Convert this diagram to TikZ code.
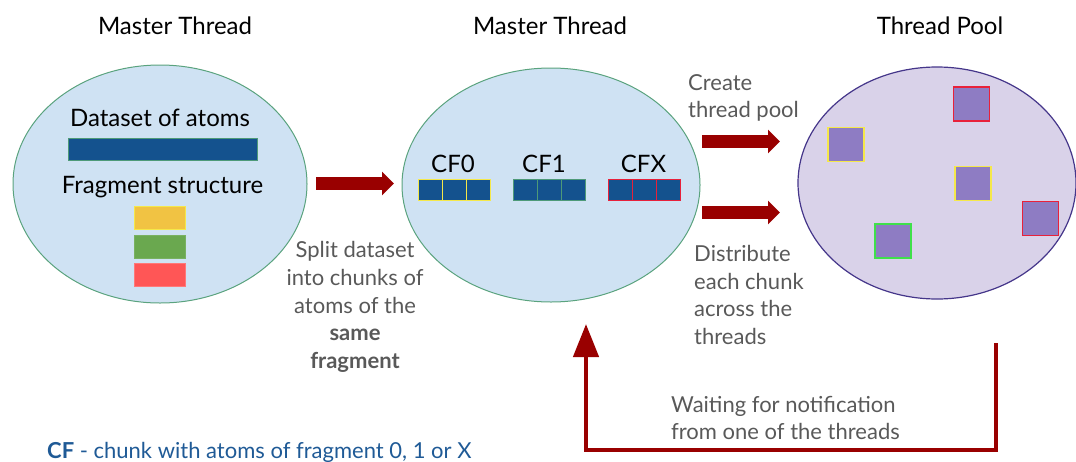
\documentclass[tikz,border=0pt]{standalone}
\usepackage{fontspec}
\setmainfont{Lato}
\usetikzlibrary{arrows.meta,shapes.geometric}

\definecolor{blobblue}{HTML}{CFE2F3}
\definecolor{blobline}{HTML}{5AA37E}
\definecolor{poolfill}{HTML}{D9D2E9}
\definecolor{poolline}{HTML}{45368A}
\definecolor{atomblue}{HTML}{14528E}
\definecolor{fragyellow}{HTML}{F1C343}
\definecolor{fraggreen}{HTML}{6AA84F}
\definecolor{fragred}{HTML}{FF5656}
\definecolor{edgeyellow}{HTML}{F5E84A}
\definecolor{edgegreen}{HTML}{4E9A78}
\definecolor{edgered}{HTML}{E8213A}
\definecolor{edgelime}{HTML}{3FE04A}
\definecolor{threadfill}{HTML}{8E7CC3}
\definecolor{flowred}{HTML}{990000}
\definecolor{notegray}{HTML}{595959}
\definecolor{legendblue}{HTML}{1F5A96}

\tikzset{
  blob/.style={ellipse, draw=blobline, fill=blobblue, line width=1pt, inner sep=0pt},
  pool/.style={ellipse, draw=poolline, fill=poolfill, line width=1.2pt, inner sep=0pt},
  title/.style={font=\fontsize{24}{28}\selectfont, anchor=base, inner sep=0pt},
  label/.style={font=\fontsize{24}{28}\selectfont, anchor=base, inner sep=0pt},
  note/.style={font=\fontsize{22}{27.8}\selectfont, text=notegray, inner sep=0pt},
  cell/.style={draw=#1, fill=atomblue, line width=1pt, minimum width=23.67pt, minimum height=21pt, inner sep=0pt},
  frag/.style={fill=#1, line width=1pt, minimum width=51pt, minimum height=23pt, inner sep=0pt},
  thread/.style={draw=#1, fill=threadfill, line width=1.2pt, minimum width=36pt, minimum height=34pt, inner sep=0pt},
  blockarrow/.style={draw=flowred, line width=13pt, -{Triangle[length=12pt,width=23pt]}},
  loop/.style={draw=flowred, line width=4.5pt, -{Triangle[length=33pt,width=25pt]}}
}

\begin{document}
\begin{tikzpicture}[x=1pt,y=-1pt]
\useasboundingbox (0,0) rectangle (1076,461);

% titles
\node[title] (t1) at (175,34) {Master Thread};
\node[title] (t2) at (550,34) {Master Thread};
\node[title] (t3) at (940,34) {Thread Pool};

% the three stages
\node[blob, minimum width=294pt, minimum height=238pt] (e1) at (160,184) {};
\node[blob, minimum width=298pt, minimum height=234pt] (e2) at (551,185) {};
\node[pool, minimum width=278pt, minimum height=232pt] (e3) at (937,183) {};

% dataset and fragment structure
\node[label] (ds) at (160,126) {Dataset of atoms};
\node[draw=edgegreen, fill=atomblue, line width=1pt, minimum width=189pt, minimum height=22pt, inner sep=0pt] (bar) at (162.5,149) {};
\node[label] (fs) at (162.5,193) {Fragment structure};
\node[frag=fragyellow, draw=edgeyellow] (fy) at (159.5,217.5) {};
\node[frag=fraggreen, draw=fraggreen!90!white] (fg) at (159.5,246.5) {};
\node[frag=fragred, draw=fragred!80!white] (fr) at (159.5,275) {};

% chunks
\node[label] (cf0) at (453,172) {CF0};
\node[label] (cf1) at (544,172) {CF1};
\node[label] (cfx) at (643.5,172) {CFX};
\foreach \x [count=\i] in {430.8,454.5,478.2} \node[cell=edgeyellow] (a\i) at (\x,189.5) {};
\foreach \x [count=\i] in {525.8,549.5,573.2} \node[cell=edgegreen] (b\i) at (\x,189.5) {};
\foreach \x [count=\i] in {620.8,644.5,668.2} \node[cell=edgered] (c\i) at (\x,189.5) {};

% threads in the pool
\node[thread=edgeyellow] (p1) at (846,144.5) {};
\node[thread=edgered] (p2) at (971.5,104) {};
\node[thread=edgeyellow] (p3) at (973,183.5) {};
\node[thread=edgered] (p4) at (1040.5,218.5) {};
\node[thread=edgelime] (p5) at (893,241) {};

% flow arrows
\coordinate (s1) at (316,183.5);
\coordinate (d1) at (394,183.5);
\coordinate (s2) at (702,141.5);
\coordinate (d2) at (780,141.5);
\coordinate (s3) at (702,212.5);
\coordinate (d3) at (780,212.5);
\draw[blockarrow] (s1) -- (d1);
\draw[blockarrow] (s2) -- (d2);
\draw[blockarrow] (s3) -- (d3);

% notification loop back to the master thread
\coordinate (ls) at (996,343);
\coordinate (lc1) at (996,450);
\coordinate (lc2) at (586,450);
\coordinate (le) at (586,324);
\draw[loop] (ls) -- (lc1) -- (lc2) -- (le);

% notes
\node[note, align=center] (n1) at (355,307) {Split dataset\\into chunks of\\atoms of the\\\textbf{same}\\\textbf{fragment}};
\node[note, align=left, anchor=west] (n2) at (688,98) {Create\\thread pool};
\node[note, align=left, anchor=west] (n3) at (694,295) {Distribute\\each chunk\\across the\\threads};
\node[note, align=left, anchor=west] (n4) at (671,418) {Waiting for notification\\from one of the threads};

% legend
\node[font=\fontsize{22}{26}\selectfont, text=legendblue, anchor=base west, inner sep=0pt] (lg) at (47,458) {\textbf{CF} - chunk with atoms of fragment 0, 1 or X};
\end{tikzpicture}
\end{document}
